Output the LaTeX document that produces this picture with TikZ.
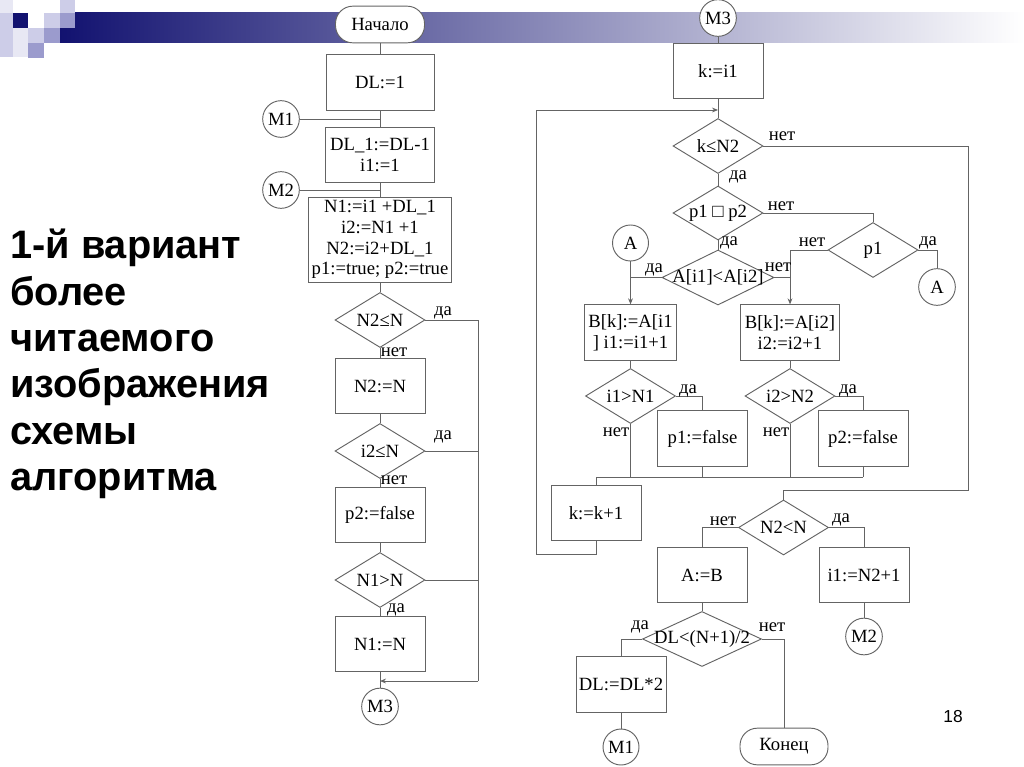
\documentclass[tikz,border=0pt]{standalone}
\usepackage{fontspec}
\setmainfont{Liberation Serif}
\newfontfamily\titlefont{Liberation Sans}
\usetikzlibrary{shapes.geometric,arrows.meta,calc}

\definecolor{lc}{RGB}{100,100,100}
\definecolor{navy}{RGB}{18,18,112}
\definecolor{lavA}{RGB}{232,232,244}
\definecolor{lavB}{RGB}{205,205,232}
\definecolor{lavC}{RGB}{155,155,205}

\newcommand\zt[1]{\makebox[0pt]{#1}}

\begin{document}
\begin{tikzpicture}[x=0.75pt,y=-0.75pt,
  font=\fontsize{14}{15.5}\selectfont,
  lnk/.style={draw=lc, line width=0.7pt},
  box/.style={draw=lc, line width=0.7pt, fill=white, inner sep=1pt, align=center,
              minimum width=67.5pt, minimum height=41.5pt},
  dec/.style={diamond, draw=lc, line width=0.7pt, fill=white, inner sep=0pt,
              minimum width=67.5pt, minimum height=41.25pt},
  term/.style={draw=lc, line width=0.7pt, fill=white, rounded corners=13pt,
               minimum width=66.75pt, minimum height=27.5pt, inner sep=1pt},
  conn/.style={circle, draw=lc, line width=0.7pt, fill=white, minimum size=27.5pt, inner sep=0pt},
  lab/.style={inner sep=0.5pt},
  arr/.style={-{Stealth[length=4.5pt,width=3.6pt]}},
]
\useasboundingbox (0,0) rectangle (1024,767);
\fill[white] (0,0) rectangle (1024,767);

% ---- slide header: squares and fading bar ----
\shade[left color=navy, right color=white] (60,13) rectangle (1024,43);
\fill[lavA] (0,0) rectangle (13,13);
\fill[lavB] (0,13) rectangle (13,57);
\fill[lavA] (13,28) rectangle (28,57);
\fill[navy] (13,13) rectangle (28,28);
\fill[lavB] (28,28) rectangle (44,43);
\fill[lavC] (28,43) rectangle (44,58);
\fill[lavB] (44,13) rectangle (60,28);
\fill[lavC] (44,28) rectangle (60,43);
\fill[lavB] (60,0) rectangle (75,13);
\fill[lavC] (60,13) rectangle (75,28);

% ---- title ----
\node[anchor=north west, inner sep=0pt, align=left,
      font=\titlefont\bfseries\fontsize{29.8}{34.75}\selectfont] (title) at (10,229)
  {1-й вариант\\более\\читаемого\\изображения\\схемы\\алгоритма};
\node[font=\titlefont\fontsize{13}{15}\selectfont] (pageno) at (953,717) {18};

% ---- left column ----
\node[term] (start) at (380,24.5) {Начало};
\node[box, minimum width=81pt] (dl) at (380,82.5) {DL:=1};
\node[conn] (m1) at (281,119) {M1};
\node[box, minimum width=81.75pt] (dla) at (380,155) {DL\_1:=DL-1\\i1:=1};
\node[conn] (m2) at (281,190) {M2};
\node[box, minimum width=107.25pt, minimum height=63.75pt, inner sep=0pt] (n1) at (380,239.5)
  {N1:=i1 +DL\_1\\i2:=N1 +1\\N2:=i2+DL\_1\\p1:=true; p2:=true};
\node[dec] (d1) at (380,320) {\zt{N2≤N}};
\node[box] (b2) at (380,386) {N2:=N};
\node[dec] (d2) at (380,451) {\zt{i2≤N}};
\node[box] (b3) at (380,515) {p2:=false};
\node[dec] (d3) at (380,580) {\zt{N1>N}};
\node[box] (b4) at (380,644) {N1:=N};
\node[conn] (m3a) at (380,706.5) {M3};
\coordinate (rb) at (478,681);
\coordinate (mj) at (380,681);

\draw[lnk] (start) -- (dl);
\draw[lnk] (dl) -- (dla);
\draw[lnk] (m1) -- (m1 -| dla.north);
\draw[lnk] (dla) -- (n1);
\draw[lnk] (m2) -- (m2 -| n1.north);
\draw[lnk] (n1) -- (d1);
\draw[lnk] (d1) -- (b2);
\draw[lnk] (b2) -- (d2);
\draw[lnk] (d2) -- (b3);
\draw[lnk] (b3) -- (d3);
\draw[lnk] (d3) -- (b4);
\draw[lnk] (b4) -- (m3a);
\draw[lnk] (d1.east) -| (rb);
\draw[lnk] (d2.east) -- (d2.east -| rb);
\draw[lnk] (d3.east) -- (d3.east -| rb);
\draw[lnk, arr] (rb) -- (mj);

\node[lab] (l1) at (443,313) {да};
\node[lab] (l2) at (394,352) {нет};
\node[lab] (l3) at (443,437) {да};
\node[lab] (l4) at (394,480) {нет};
\node[lab] (l5) at (396,610) {да};

% ---- right column ----
\node[conn] (m3b) at (718,18) {M3};
\node[box] (kb) at (718,71) {k:=i1};
\node[dec] (dk) at (718,146) {\zt{k≤N2}};
\node[dec, minimum height=40.5pt] (dp) at (718,213) {\zt{p1 □ p2}};
\node[dec] (dp1) at (873,250) {\zt{p1}};
\node[conn, minimum size=27pt] (ac1) at (630.5,243) {A};
\node[conn] (ac2) at (937,287) {A};
\node[dec, minimum width=84pt] (dA) at (718,277.5) {\zt{A[i1]<A[i2]}};
\node[box, minimum width=69pt] (bb1) at (630.5,332.5) {B[k]:=A[i1\\] i1:=i1+1};
\node[box, minimum width=74pt] (bb2) at (790,332.5) {B[k]:=A[i2]\\i2:=i2+1};
\node[dec] (di1) at (630.5,396) {\zt{i1>N1}};
\node[box] (pf1) at (702.5,438.5) {p1:=false};
\node[dec] (di2) at (790,396) {\zt{i2>N2}};
\node[box] (pf2) at (863,438.5) {p2:=false};
\node[box] (kk) at (596,513) {k:=k+1};
\node[dec] (dn) at (783.5,527.5) {\zt{N2<N}};
\node[box] (ab) at (702,575) {A:=B};
\node[box] (ii) at (864,575) {i1:=N2+1};
\node[conn] (m2b) at (864,636.5) {M2};
\node[dec, minimum width=89.25pt] (ddl) at (702,639) {\zt{DL<(N+1)/2}};
\node[box] (dd) at (621,684.5) {DL:=DL*2};
\node[conn, minimum size=27pt] (m1b) at (621,747) {M1};
\node[term, minimum width=66pt] (fin) at (784,746.5) {Конец};

\coordinate (lj) at (718,110);
\coordinate (lb) at (536,554);
\coordinate (rr) at (968,490);
\coordinate (mg) at (596,477);

\draw[lnk] (m3b) -- (kb);
\draw[lnk] (kb) -- (dk);
\draw[lnk, arr] (kk.south) |- (lb) |- (lj);
\draw[lnk] (dk) -- (dp);
\draw[lnk] (dk.east) -| (rr) -| (dn.north);
\draw[lnk] (dp) -- (dA);
\draw[lnk] (dp.east) -| (dp1.north);
\draw[lnk, arr] (dp1.west) -| (bb2.north);
\draw[lnk] (dp1.east) -| (ac2.north);
\draw[lnk] (dA.west) -- (dA.west -| ac1.south);
\draw[lnk, arr] (ac1) -- (bb1);
\draw[lnk] (dA.east) -- (dA.east -| bb2.north);
\draw[lnk] (bb1) -- (di1);
\draw[lnk] (bb2) -- (di2);
\draw[lnk] (di1.east) -| (pf1.north);
\draw[lnk] (di2.east) -| (pf2.north);
\draw[lnk] (di1.south) -- (di1.south |- mg);
\draw[lnk] (pf1.south) -- (pf1.south |- mg);
\draw[lnk] (di2.south) -- (di2.south |- mg);
\draw[lnk] (pf2.south) -- (pf2.south |- mg);
\draw[lnk] (mg) -- (pf2.south |- mg);
\draw[lnk] (mg) -- (kk.north);
\draw[lnk] (dn.west) -| (ab.north);
\draw[lnk] (dn.east) -| (ii.north);
\draw[lnk] (ii) -- (m2b);
\draw[lnk] (ab) -- (ddl);
\draw[lnk] (ddl.west) -| (dd.north);
\draw[lnk] (ddl.east) -| (fin.north);
\draw[lnk] (dd) -- (m1b);

\node[lab] (r1) at (782,136) {нет};
\node[lab] (r2) at (738,177) {да};
\node[lab] (r3) at (781,206) {нет};
\node[lab] (r4) at (729,243) {да};
\node[lab] (r5) at (812,242) {нет};
\node[lab] (r6) at (928,243) {да};
\node[lab] (r7) at (654,270) {да};
\node[lab] (r8) at (778,267) {нет};
\node[lab] (r9) at (688,391) {да};
\node[lab] (r10) at (848,391) {да};
\node[lab] (r11) at (616,432) {нет};
\node[lab] (r12) at (776,432) {нет};
\node[lab] (r13) at (723,521) {нет};
\node[lab] (r14) at (841,520) {да};
\node[lab] (r15) at (640,627) {да};
\node[lab] (r16) at (772,627) {нет};
\end{tikzpicture}
\end{document}
